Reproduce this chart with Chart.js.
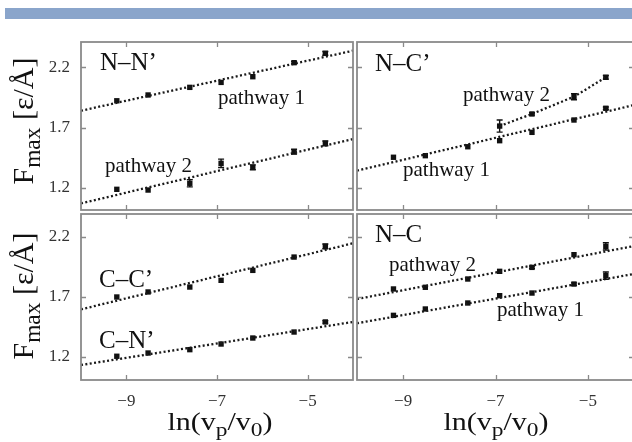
<!DOCTYPE html>
<html>
<head>
<meta charset="utf-8">
<script src="https://cdn.jsdelivr.net/npm/chart.js@4"></script>
<style>
  html, body { margin: 0; padding: 0; background: #fff; }
  #wrap { position: relative; width: 632px; height: 442px; overflow: hidden; background: #fff; }
  #bar { position: absolute; left: 5px; top: 8px; width: 627px; height: 11px; background: #8aa5cb; }
  canvas { position: absolute; }
  .t { position: absolute; font-family: "Liberation Serif", "Times New Roman", serif; color: #111; white-space: nowrap; line-height: 1; }
  .t sub { font-size: 0.78em; vertical-align: -0.3em; line-height: 0; }
  .ytitle { transform: translate(-50%, -50%) rotate(-90deg); font-size: 30px; }
  .xtitle { transform: translateX(-50%) scaleX(1.2); font-size: 25px; }
</style>
</head>
<body>
<div id="wrap">
  <div id="bar"></div>
  <canvas id="cTL" width="365" height="190" style="left:0px;top:30px;width:365px;height:190px"></canvas>
  <canvas id="cTR" width="300" height="190" style="left:345px;top:30px;width:300px;height:190px"></canvas>
  <canvas id="cBL" width="365" height="240" style="left:0px;top:202px;width:365px;height:240px"></canvas>
  <canvas id="cBR" width="300" height="240" style="left:345px;top:202px;width:300px;height:240px"></canvas>

  <div class="t ytitle" style="left:23px;top:121px">F<sub>max</sub> [ε/Å]</div>
  <div class="t ytitle" style="left:23px;top:296px">F<sub>max</sub> [ε/Å]</div>
  <div class="t xtitle" style="left:220px;top:409px">ln(v<sub>p</sub>/v<sub>0</sub>)</div>
  <div class="t xtitle" style="left:496px;top:409px">ln(v<sub>p</sub>/v<sub>0</sub>)</div>

  <div class="t" style="left:100px;top:49px;font-size:25px">N–N’</div>
  <div class="t" style="left:218px;top:87px;font-size:21px">pathway 1</div>
  <div class="t" style="left:105px;top:155px;font-size:21px">pathway 2</div>

  <div class="t" style="left:375px;top:50px;font-size:25px">N–C’</div>
  <div class="t" style="left:463px;top:84px;font-size:21px">pathway 2</div>
  <div class="t" style="left:403px;top:159px;font-size:21px">pathway 1</div>

  <div class="t" style="left:99px;top:266px;font-size:25px">C–C’</div>
  <div class="t" style="left:99px;top:327px;font-size:25px">C–N’</div>

  <div class="t" style="left:375px;top:221px;font-size:25px">N–C</div>
  <div class="t" style="left:389px;top:254px;font-size:21px">pathway 2</div>
  <div class="t" style="left:497px;top:299px;font-size:21px">pathway 1</div>
</div>
<script>
// ---- data ----
const lnV = [-9.21, -8.52, -7.60, -6.91, -6.21, -5.30, -4.61];
const xTicks = [-9, -7, -5];
const yTicks = [1.2, 1.7, 2.2];
const fitX = [-10, -4];

// N–N'
const nn1 = [1.921, 1.969, 2.032, 2.073, 2.120, 2.236, 2.313];
const nn1Err = [0, 0, 0, 0, 0, 0.01, 0.015];
const nn1Fit = [1.839, 2.335];
const nn2 = [1.189, 1.183, 1.239, 1.404, 1.371, 1.500, 1.569];
const nn2Err = [0, 0, 0.03, 0.035, 0.02, 0.02, 0.02];
const nn2Fit = [1.073, 1.605];

// N–C'
const nc1p = [1.454, 1.467, 1.541, 1.591, 1.660, 1.762, 1.859];
const nc1pErr = [0, 0, 0, 0, 0, 0, 0.01];
const nc1pFit = [1.343, 1.886];
const nc2pX = [-6.91, -6.21, -5.30, -4.61];
const nc2p = [1.712, 1.812, 1.955, 2.115];
const nc2pErr = [0.05, 0.01, 0.025, 0.015];

// C–C' and C–N'
const cc = [1.700, 1.742, 1.783, 1.839, 1.922, 2.033, 2.122];
const ccErr = [0, 0, 0, 0, 0, 0, 0.02];
const ccFit = [1.597, 2.148];
const cn = [1.206, 1.233, 1.261, 1.308, 1.358, 1.408, 1.492];
const cnErr = [0, 0, 0, 0, 0, 0, 0.01];
const cnFit = [1.133, 1.492];

// N–C
const ncA2 = [1.767, 1.781, 1.850, 1.914, 1.947, 2.053, 2.122];
const ncA2Err = [0, 0, 0, 0, 0.01, 0, 0.03];
const ncA2Fit = [1.683, 2.125];
const ncA1 = [1.547, 1.600, 1.650, 1.711, 1.733, 1.808, 1.878];
const ncA1Err = [0, 0, 0, 0, 0, 0.01, 0.03];
const ncA1Fit = [1.481, 1.892];

// ---- helpers ----
const FONT = '"Liberation Serif", "Times New Roman", serif';
const pts = (xs, ys) => xs.map((x, i) => ({x, y: ys[i]}));
const minus = v => String(v).replace('-', '\u2212');

function markers(xs, ys, errs) {
  return { type: 'scatter', data: pts(xs, ys), errors: errs,
    pointStyle: 'rect', pointRadius: 3.8, pointHoverRadius: 3.8,
    backgroundColor: '#111', borderColor: '#111', borderWidth: 0, showLine: false };
}
function dotted(xs, ys) {
  return { type: 'line', data: pts(xs, ys), pointRadius: 0, borderColor: '#1a1a1a',
    borderWidth: 2.3, borderDash: [2, 2.4], fill: false, tension: 0 };
}

const framePlugin = {
  id: 'frame',
  afterDatasetsDraw(chart) {
    const {ctx, chartArea: a, scales: {x, y}} = chart;
    ctx.save();
    // error bars
    chart.data.datasets.forEach(ds => {
      if (!ds.errors) return;
      ds.data.forEach((p, i) => {
        const e = ds.errors[i];
        if (!e) return;
        const px = x.getPixelForValue(p.x);
        const y1 = y.getPixelForValue(p.y - e), y2 = y.getPixelForValue(p.y + e);
        ctx.strokeStyle = '#111'; ctx.lineWidth = 1.4;
        ctx.beginPath();
        ctx.moveTo(px, y1); ctx.lineTo(px, y2);
        ctx.moveTo(px - 3, y1); ctx.lineTo(px + 3, y1);
        ctx.moveTo(px - 3, y2); ctx.lineTo(px + 3, y2);
        ctx.stroke();
      });
    });
    // inward ticks
    ctx.strokeStyle = '#8a8a8a'; ctx.lineWidth = 1.3;
    ctx.beginPath();
    xTicks.forEach(v => {
      const px = Math.round(x.getPixelForValue(v)) + 0.5;
      ctx.moveTo(px, a.top); ctx.lineTo(px, a.top + 5);
      ctx.moveTo(px, a.bottom); ctx.lineTo(px, a.bottom - 5);
    });
    yTicks.forEach(v => {
      const py = Math.round(y.getPixelForValue(v)) + 0.5;
      ctx.moveTo(a.left, py); ctx.lineTo(a.left + 5, py);
      ctx.moveTo(a.right, py); ctx.lineTo(a.right - 5, py);
    });
    ctx.stroke();
    // frame
    ctx.strokeStyle = '#8a8a8a'; ctx.lineWidth = 1.8;
    ctx.strokeRect(a.left, a.top, a.right - a.left, a.bottom - a.top);
    ctx.restore();
  }
};

function makePanel(id, datasets, opt) {
  new Chart(document.getElementById(id), {
    type: 'scatter',
    data: { datasets },
    options: {
      responsive: false, animation: false, devicePixelRatio: 1,
      layout: { padding: opt.padding },
      plugins: { legend: { display: false }, tooltip: { enabled: false } },
      scales: {
        x: {
          type: 'linear', min: -10, max: -4, display: opt.showX,
          grid: { display: false, drawTicks: false }, border: { display: false },
          afterBuildTicks: s => { s.ticks = xTicks.map(v => ({value: v})); },
          afterFit: s => { s.height = opt.showX ? 62 : 0; s.paddingLeft = 0; s.paddingRight = 0; s.paddingTop = 0; s.paddingBottom = 0; },
          ticks: { padding: 11, color: '#333', font: { family: FONT, size: 17 }, callback: v => minus(v), maxRotation: 0 }
        },
        y: {
          type: 'linear', min: opt.ymin, max: opt.ymax, display: opt.showY,
          grid: { display: false, drawTicks: false }, border: { display: false },
          afterBuildTicks: s => { s.ticks = yTicks.map(v => ({value: v})); },
          afterFit: s => { s.width = opt.showY ? 81 : 0; s.paddingTop = 0; s.paddingBottom = 0; s.paddingLeft = 0; s.paddingRight = 0; },
          ticks: { padding: 11, color: '#333', font: { family: FONT, size: 17 }, callback: v => v.toFixed(1) }
        }
      }
    },
    plugins: [framePlugin]
  });
}

makePanel('cTL', [
  dotted(fitX, nn1Fit), dotted(fitX, nn2Fit),
  markers(lnV, nn1, nn1Err), markers(lnV, nn2, nn2Err)
], { padding: {top: 12, right: 12, bottom: 10, left: 0}, showX: false, showY: true, ymin: 1.018, ymax: 2.407 });

makePanel('cTR', [
  dotted(fitX, nc1pFit), dotted(nc2pX, nc2p),
  markers(lnV, nc1p, nc1pErr), markers(nc2pX, nc2p, nc2pErr)
], { padding: {top: 12, right: 11, bottom: 10, left: 12}, showX: false, showY: false, ymin: 1.018, ymax: 2.407 });

makePanel('cBL', [
  dotted(fitX, ccFit), dotted(fitX, cnFit),
  markers(lnV, cc, ccErr), markers(lnV, cn, cnErr)
], { padding: {top: 12, right: 12, bottom: 0, left: 0}, showX: true, showY: true, ymin: 1.008, ymax: 2.392 });

makePanel('cBR', [
  dotted(fitX, ncA2Fit), dotted(fitX, ncA1Fit),
  markers(lnV, ncA2, ncA2Err), markers(lnV, ncA1, ncA1Err)
], { padding: {top: 12, right: 11, bottom: 0, left: 12}, showX: true, showY: false, ymin: 1.008, ymax: 2.392 });
</script>
</body>
</html>
